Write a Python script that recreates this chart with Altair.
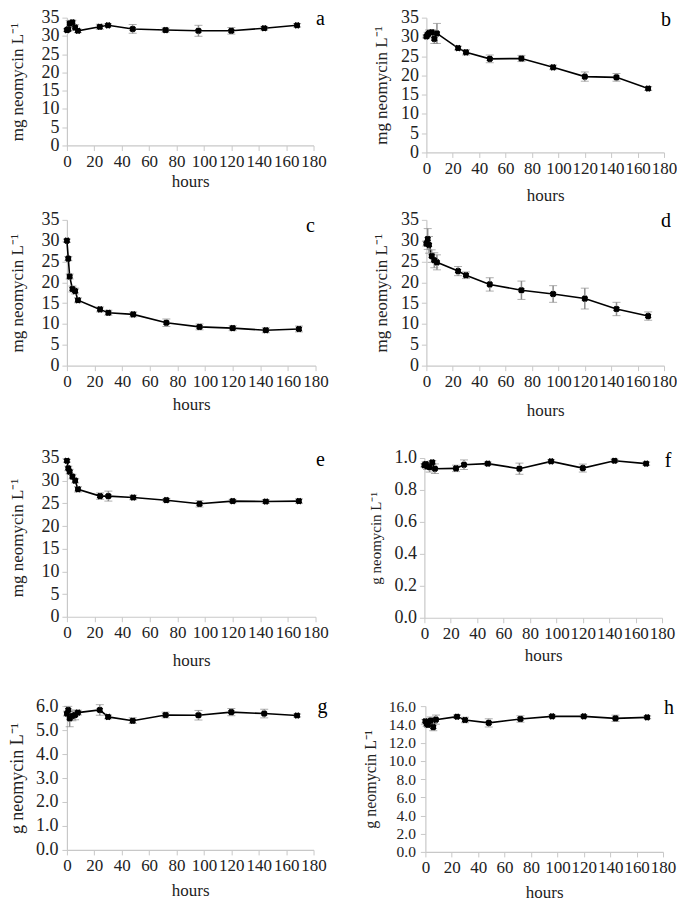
import altair as alt
import pandas as pd

hours = [0, 1, 2, 4, 6, 8, 24, 30, 48, 72, 96, 120, 144, 168]

a_mean = [31.6, 31.8, 33.4, 33.7, 32.3, 31.4, 32.5, 32.9, 31.9, 31.6, 31.4, 31.4, 32.1, 32.9]
a_err = [0.3, 0.5, 0.8, 0.6, 0.8, 0.5, 0.7, 0.4, 1.2, 0.6, 1.5, 0.9, 0.5, 0.5]

b_mean = [30.1, 30.6, 31.0, 31.2, 29.5, 30.9, 27.1, 26.0, 24.3, 24.4, 22.1, 19.7, 19.5, 16.6]
b_err = [0.4, 0.6, 0.8, 0.7, 1.2, 2.6, 0.5, 0.7, 1.0, 0.8, 0.6, 1.2, 1.0, 0.5]

c_mean = [30.0, 25.7, 21.4, 18.4, 17.9, 15.7, 13.5, 12.7, 12.3, 10.3, 9.3, 9.0, 8.5, 8.8]
c_err = [0.4, 0.5, 0.6, 0.7, 0.7, 0.6, 0.6, 0.6, 0.6, 0.9, 0.7, 0.6, 0.6, 0.7]

d_mean = [29.3, 30.4, 29.0, 26.3, 25.3, 24.8, 22.7, 21.7, 19.5, 18.1, 17.2, 16.1, 13.6, 11.9]
d_err = [0.6, 2.5, 2.0, 1.5, 1.8, 1.8, 1.1, 0.8, 1.6, 2.2, 2.0, 2.5, 1.6, 1.0]

e_mean = [34.4, 32.7, 32.0, 30.9, 30.0, 28.1, 26.6, 26.6, 26.3, 25.7, 24.9, 25.5, 25.4, 25.5]
e_err = [0.3, 0.5, 0.5, 0.5, 0.5, 0.6, 0.7, 1.1, 0.5, 0.4, 0.7, 0.4, 0.4, 0.5]

f_mean = [0.954, 0.962, 0.948, 0.942, 0.973, 0.933, 0.935, 0.958, 0.965, 0.933, 0.979, 0.937, 0.983, 0.965]
f_err = [0.01, 0.015, 0.02, 0.03, 0.01, 0.03, 0.02, 0.03, 0.01, 0.035, 0.01, 0.025, 0.01, 0.01]

g_mean = [5.69, 5.84, 5.49, 5.59, 5.63, 5.73, 5.84, 5.55, 5.39, 5.63, 5.62, 5.75, 5.69, 5.61]
g_err = [0.1, 0.15, 0.35, 0.2, 0.2, 0.1, 0.22, 0.08, 0.12, 0.12, 0.2, 0.15, 0.18, 0.06]

h_mean = [14.34, 14.06, 13.95, 14.41, 13.7, 14.52, 14.84, 14.48, 14.16, 14.59, 14.88, 14.88, 14.66, 14.77]
h_err = [0.2, 0.3, 0.3, 0.4, 0.4, 0.5, 0.2, 0.3, 0.45, 0.35, 0.15, 0.15, 0.35, 0.15]

x_ticks = [0, 20, 40, 60, 80, 100, 120, 140, 160, 180]
mg_ticks = [0, 5, 10, 15, 20, 25, 30, 35]
f_ticks = [0.0, 0.2, 0.4, 0.6, 0.8, 1.0]
g_ticks = [0.0, 1.0, 2.0, 3.0, 4.0, 5.0, 6.0]
h_ticks = [0.0, 2.0, 4.0, 6.0, 8.0, 10.0, 12.0, 14.0, 16.0]

MG = "mg neomycin L\u207b\u00b9"
G = "g neomycin L\u207b\u00b9"
FONT = "Liberation Serif"


def panel(letter, mean, err, ytitle, yticks, ymax, fmt, w, h,
          lx, ly, ytfs=17, xtpad=10, ytpad=10, ylfs=18, xlfs=17, lblpad=3):
    df = pd.DataFrame({"hours": hours, "mean": mean, "err": err})
    df["lo"] = df["mean"] - df["err"]
    df["hi"] = df["mean"] + df["err"]
    xs = alt.Scale(domain=[0, 180], nice=False)
    ys = alt.Scale(domain=[0, ymax], nice=False)
    xax = alt.Axis(values=x_ticks, title="hours", titlePadding=xtpad,
                   labelOverlap=False, labelFont=FONT, titleFont=FONT,
                   labelFontSize=xlfs, labelFlush=False)
    yax = alt.Axis(values=yticks, title=ytitle, format=fmt,
                   titleFontSize=ytfs, titlePadding=ytpad,
                   labelOverlap=False, labelFont=FONT, titleFont=FONT,
                   labelFontSize=ylfs, labelPadding=lblpad)
    X = alt.X("hours:Q", scale=xs, axis=xax, title="hours")
    base = alt.Chart(df)
    line = base.mark_line(color="black", strokeWidth=1.6).encode(
        x=X,
        y=alt.Y("mean:Q", scale=ys, axis=yax, title=ytitle),
    )
    eb = base.mark_errorbar(ticks={"size": 8, "color": "#8c8c8c"},
                            rule={"color": "#8c8c8c", "strokeWidth": 1.5}).encode(
        x=X,
        y=alt.Y("lo:Q", scale=ys, axis=yax, title=ytitle),
        y2="hi:Q",
    )
    pts = base.mark_point(filled=True, color="black", size=32, opacity=1,
                          shape="circle").encode(
        x=X,
        y=alt.Y("mean:Q", scale=ys, axis=yax, title=ytitle),
    )
    star = base.mark_point(filled=True, color="black", size=45, opacity=1,
                           shape="cross", angle=45).encode(
        x=X,
        y=alt.Y("mean:Q", scale=ys, axis=yax, title=ytitle),
    )
    lab = alt.Chart(pd.DataFrame({"t": [letter]})).mark_text(
        font=FONT, fontSize=20, color="black", align="center", baseline="middle"
    ).encode(text="t:N", x=alt.value(lx), y=alt.value(ly))
    return alt.layer(line, eb, pts, star, lab).properties(width=w, height=h)


pa = panel("a", a_mean, a_err, MG, mg_ticks, 35, "d", 247, 128, 254, 1, xtpad=4.5, ytpad=14)
pb = panel("b", b_mean, b_err, MG, mg_ticks, 35, "d", 238, 135, 240, 2, xtpad=11.5)
pc = panel("c", c_mean, c_err, MG, mg_ticks, 35, "d", 249, 146, 244, 6, xtpad=6.5, ytpad=14)
pd_ = panel("d", d_mean, d_err, MG, mg_ticks, 35, "d", 238, 146, 240, 1, xtpad=12.5)
pe = panel("e", e_mean, e_err, MG, mg_ticks, 35, "d", 249, 159, 254, 2, xtpad=11.5, ytpad=14)
pf = panel("f", f_mean, f_err, G, f_ticks, 1.0, ".1f", 238, 160, 244, 3, ytfs=15, xtpad=5.5)
pg = panel("g", g_mean, g_err, G, g_ticks, 6.0, ".1f", 247, 144, 256, 1, ytfs=18,
           xtpad=8.5, ytpad=8.5, lblpad=4)
ph = panel("h", h_mean, h_err, G, h_ticks, 16.0, ".1f", 238, 146, 244, 2, ytfs=16,
           xtpad=9, ylfs=15.5, lblpad=5)

row1 = alt.hconcat(pa, pb, spacing=45)
row2 = alt.hconcat(pc, pd_, spacing=43)
row3 = alt.hconcat(pe, pf, spacing=40)
row4 = alt.hconcat(pg, ph, spacing=34)

r34 = alt.vconcat(row3, row4, spacing=28.5)
lower = alt.vconcat(row2, r34, spacing=30.5)

chart = alt.vconcat(row1, lower, spacing=6.5).properties(
    padding=0, background="white"
).configure(font=FONT).configure_view(stroke=None).configure_axis(
    grid=False,
    domainColor="#c8c8c8",
    domainWidth=1.2,
    tickColor="#c8c8c8",
    tickSize=5,
    labelFont=FONT,
    labelFontSize=17,
    labelColor="#222222",
    labelPadding=3,
    titleFont=FONT,
    titleFontSize=17,
    titleFontWeight="normal",
    titleColor="#222222",
)

chart.save("out.html", embed_options={"renderer": "svg", "actions": False})
